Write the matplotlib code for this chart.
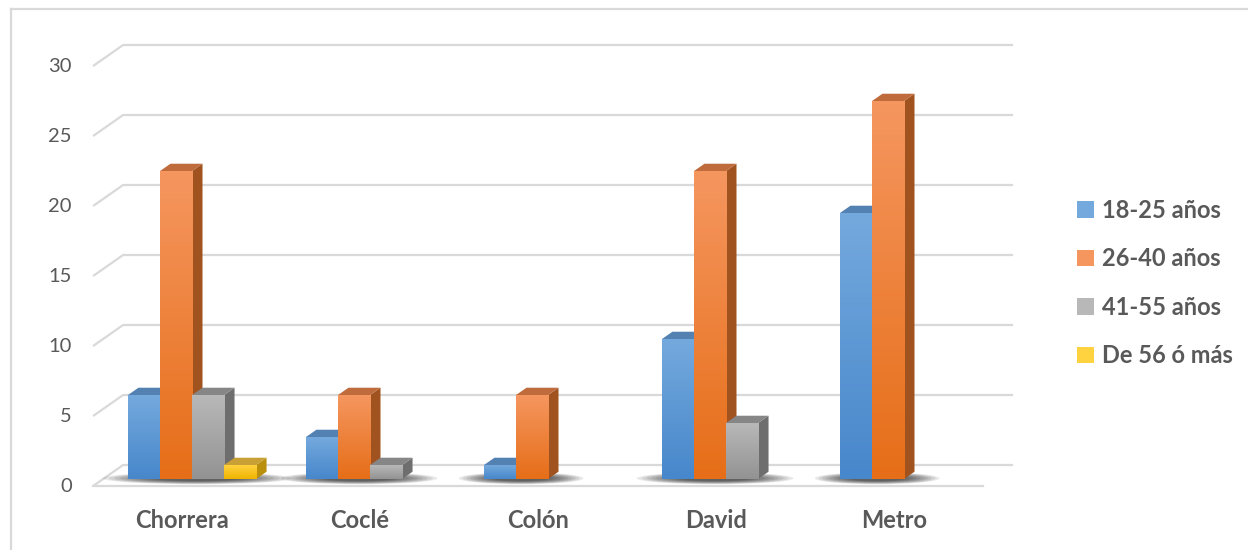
import matplotlib.pyplot as plt
import numpy as np
from matplotlib.patches import Polygon, Ellipse, Patch
from matplotlib.colors import to_rgb
from matplotlib.lines import Line2D

# Data
regions = ['Chorrera', 'Coclé', 'Colón', 'David', 'Metro']
age_groups = ['18-25 años', '26-40 años', '41-55 años', 'De 56 ó más']
age_18_25 = [6, 3, 1, 10, 19]
age_26_40 = [22, 6, 6, 22, 27]
age_41_55 = [6, 1, 0, 4, 0]
age_56_plus = [1, 0, 0, 0, 0]
y_ticks = [0, 5, 10, 15, 20, 25, 30]

series = [age_18_25, age_26_40, age_41_55, age_56_plus]

# front / side / top colours for each series (fake 3d look)
front_colors = [('#74A9DD', '#4787CB'), ('#F5965F', '#E66E18'),
                ('#B8B8B8', '#939393'), ('#FFD23F', '#F0B300')]
side_colors = ['#3E6D9E', '#A0531F', '#6E6E6E', '#B98F0C']
top_colors = ['#5381B2', '#BF6B3C', '#868686', '#C9A035']
text_color = '#595959'
grid_color = '#D9D9D9'

# oblique projection: depth z in [0, 1] shifts right and up
DX = 30 / 178
DY = 21 / 14
Z1, Z2 = 0.32, 0.68
BAR_W = 0.18


def proj(x, v, z):
    return (x + z * DX, v + z * DY)


plt.rcParams['font.family'] = ['Lato', 'DejaVu Sans']

fig = plt.figure(figsize=(12.48, 5.5), dpi=100)
ax = fig.add_axes([0, 0, 1, 1])
ax.axis('off')
xlim = (-182.1 / 178, (1248 - 182.1) / 178)
ylim = (-64 / 14, 486 / 14)

# chart border
fig.add_artist(Line2D([11 / 1248, 11 / 1248], [0, 1 - 9 / 550], transform=fig.transFigure,
                      color=grid_color, lw=1.6))
fig.add_artist(Line2D([11 / 1248, 1], [1 - 9 / 550, 1 - 9 / 550], transform=fig.transFigure,
                      color=grid_color, lw=1.6))

# back wall gridlines with the left diagonal
n = len(regions)
x_left, x_right = -0.5, n - 0.5
for v in y_ticks:
    p0 = proj(x_left, v, 0)
    p1 = proj(x_left, v, 1)
    p2 = proj(x_right, v, 1)
    ax.plot([p0[0], p1[0], p2[0]], [p0[1], p1[1], p2[1]], color=grid_color, lw=1.6,
            solid_capstyle='butt', zorder=1)
    ax.text(-0.62, v, str(v), ha='right', va='center', fontsize=14.5, color=text_color)

# floor front edge
f0 = proj(x_left, 0, 0)
f1 = proj(x_right, 0, 0)
ax.plot([f0[0], f1[0]], [f0[1], f1[1]], color=grid_color, lw=1.6, zorder=1)

offsets = -0.36 + BAR_W * np.arange(len(series)) + BAR_W / 2

# soft shadows under each group
for i in range(n):
    idx = [k for k in range(len(series)) if series[k][i] > 0]
    lo = i + offsets[idx[0]] - BAR_W / 2
    hi = i + offsets[idx[-1]] + BAR_W / 2
    cx, cy = proj((lo + hi) / 2, 0, 0.5)
    for s in np.linspace(1.0, 0.45, 10):
        ax.add_patch(Ellipse((cx, cy - 0.2), (hi - lo + 0.34) * s, 0.85 * s,
                             color='black', alpha=0.09, lw=0, zorder=2))

# bars
for i in range(n):
    for k, vals in enumerate(series):
        val = vals[i]
        if val <= 0:
            continue
        xl = i + offsets[k] - BAR_W / 2
        xr = xl + BAR_W
        side = [proj(xr, 0, Z1), proj(xr, 0, Z2), proj(xr, val, Z2), proj(xr, val, Z1)]
        top = [proj(xl, val, Z1), proj(xr, val, Z1), proj(xr, val, Z2), proj(xl, val, Z2)]
        ax.add_patch(Polygon(side, closed=True, fc=side_colors[k], ec='none', zorder=3))
        ax.add_patch(Polygon(top, closed=True, fc=top_colors[k], ec='none', zorder=3))
        fx, fy = proj(i + offsets[k], 0, Z1)
        bar = ax.bar(fx, val, bottom=fy, width=BAR_W, color=front_colors[k][0],
                     linewidth=0, zorder=3)[0]
        c_top = np.array(to_rgb(front_colors[k][0]))
        c_bot = np.array(to_rgb(front_colors[k][1]))
        t = np.linspace(0, 1, 64)[:, None]
        grad = (c_top * (1 - t) + c_bot * t)[:, None, :]
        im = ax.imshow(grad, extent=(fx - BAR_W / 2, fx + BAR_W / 2, fy, fy + val),
                       origin='upper', aspect='auto', interpolation='bilinear', zorder=3)
        im.set_clip_path(bar)

# category labels
for i, name in enumerate(regions):
    ax.text(i, -2.45, name, ha='center', va='center', fontsize=17, fontweight='bold',
            color=text_color)

ax.set_xlim(*xlim)
ax.set_ylim(*ylim)

handles = [Patch(facecolor=front_colors[k][0], edgecolor='none') for k in range(len(series))]
leg = fig.legend(handles, age_groups, loc='center left', bbox_to_anchor=(1056 / 1248, 1 - 283 / 550),
                 frameon=False, handlelength=0.7, handleheight=0.7, handletextpad=0.35,
                 labelspacing=1.08, prop={'size': 17, 'weight': 'bold'})
for txt in leg.get_texts():
    txt.set_color(text_color)

plt.savefig('out.png', dpi=100)
